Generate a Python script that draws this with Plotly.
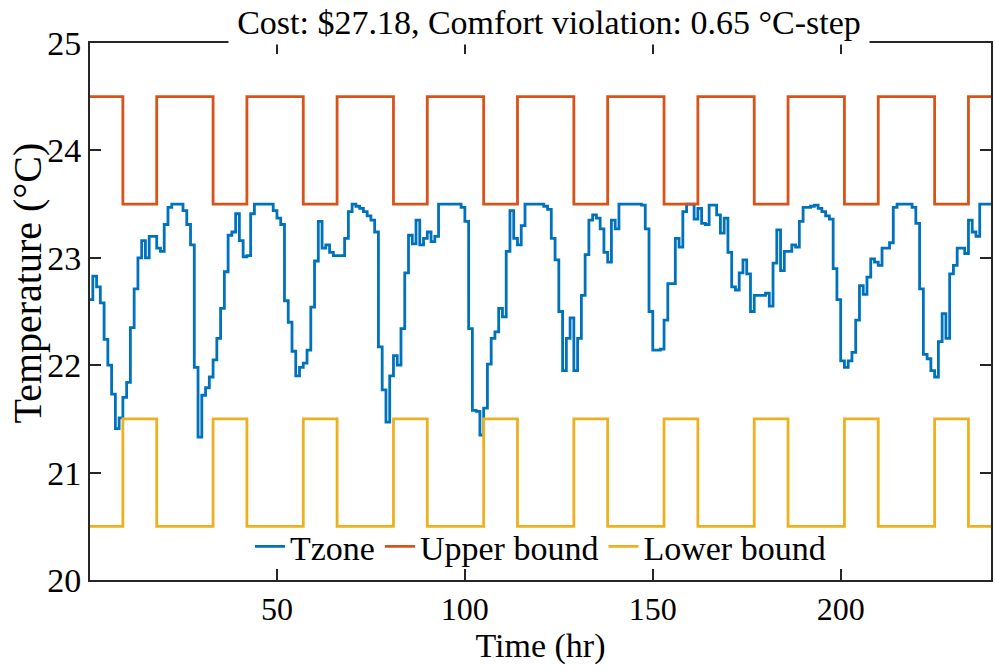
import plotly.graph_objects as go

# Zone temperature, one value per hour (hour 0 .. 239)
tzone = [
    22.61, 22.83, 22.73, 22.58, 22.24, 22.00, 21.73, 21.41, 21.51, 21.70,
    21.84, 22.35, 22.71, 23.00, 23.16, 23.00, 23.20, 23.20, 23.09, 23.06,
    23.31, 23.47, 23.50, 23.50, 23.50, 23.44, 23.31, 23.12, 21.98, 21.33,
    21.72, 21.79, 21.89, 22.05, 22.25, 22.53, 22.87, 23.21, 23.24, 23.41,
    23.16, 23.01, 23.02, 23.41, 23.50, 23.50, 23.50, 23.50, 23.50, 23.44,
    23.37, 23.31, 22.60, 22.40, 22.13, 21.90, 21.98, 22.02, 22.14, 22.54,
    22.97, 23.34, 23.09, 23.12, 23.05, 23.02, 23.02, 23.02, 23.18, 23.43,
    23.50, 23.48, 23.46, 23.43, 23.39, 23.35, 23.24, 22.17, 21.77, 21.47,
    21.90, 22.09, 22.00, 22.34, 22.86, 23.21, 23.13, 23.35, 23.12, 23.18,
    23.24, 23.15, 23.20, 23.50, 23.50, 23.50, 23.50, 23.50, 23.50, 23.47,
    23.34, 22.34, 21.58, 21.57, 21.35, 21.60, 22.01, 22.25, 22.31, 22.53,
    22.45, 23.06, 23.44, 23.18, 23.12, 23.30, 23.50, 23.50, 23.50, 23.50,
    23.50, 23.48, 23.45, 23.18, 22.98, 22.50, 21.95, 22.25, 22.44, 21.95,
    22.25, 22.65, 23.03, 23.35, 23.40, 23.37, 23.27, 23.05, 22.96, 23.35,
    23.27, 23.50, 23.50, 23.50, 23.50, 23.50, 23.50, 23.49, 23.27, 22.50,
    22.14, 22.14, 22.15, 22.42, 22.76, 22.76, 23.18, 23.10, 23.43, 23.50,
    23.50, 23.36, 23.46, 23.32, 23.31, 23.49, 23.49, 23.40, 23.23, 23.37,
    23.05, 22.73, 22.70, 22.86, 22.98, 22.85, 22.50, 22.65, 22.65, 22.65,
    22.67, 22.55, 22.95, 23.26, 22.88, 23.06, 23.06, 23.12, 23.10, 23.34,
    23.47, 23.47, 23.48, 23.49, 23.46, 23.43, 23.39, 23.36, 22.90, 22.61,
    22.04, 21.98, 22.04, 22.12, 22.42, 22.74, 22.66, 22.82, 22.99, 22.96,
    22.93, 23.09, 23.09, 23.14, 23.47, 23.50, 23.50, 23.50, 23.50, 23.47,
    23.32, 22.71, 22.10, 22.06, 21.95, 21.89, 22.22, 22.48, 22.25, 22.85,
    22.93, 23.09, 23.09, 23.04, 23.35, 23.24, 23.20, 23.50, 23.50, 23.50,
]
tzone_hours = list(range(len(tzone)))

# Comfort bounds: change times (hr) and levels after each change
bound_times = [0, 9, 18, 33, 42, 57, 66, 81, 90, 105, 114, 129, 138,
               153, 162, 177, 186, 201, 210, 225, 234, 240]
upper_bound = [24.5, 23.5, 24.5, 23.5, 24.5, 23.5, 24.5, 23.5, 24.5, 23.5, 24.5,
               23.5, 24.5, 23.5, 24.5, 23.5, 24.5, 23.5, 24.5, 23.5, 24.5, 24.5]
lower_bound = [20.5, 21.5, 20.5, 21.5, 20.5, 21.5, 20.5, 21.5, 20.5, 21.5, 20.5,
               21.5, 20.5, 21.5, 20.5, 21.5, 20.5, 21.5, 20.5, 21.5, 20.5, 20.5]

x_ticks = [50, 100, 150, 200]
y_ticks = [20, 21, 22, 23, 24, 25]
title_text = "Cost: $27.18, Comfort violation: 0.65 °C-step"
y_label = "Temperature (°C)"

FONT = "Liberation Serif"
AXC = "#262626"

fig = go.Figure()
fig.add_trace(go.Scatter(x=tzone_hours + [240], y=tzone + [tzone[-1]], mode="lines",
                         line=dict(color="#0072BD", width=2.8, shape="hv"), name="Tzone"))
fig.add_trace(go.Scatter(x=bound_times, y=upper_bound, mode="lines",
                         line=dict(color="#D95319", width=2.8, shape="hv"), name="Upper bound"))
fig.add_trace(go.Scatter(x=bound_times, y=lower_bound, mode="lines",
                         line=dict(color="#EDB120", width=2.8, shape="hv"), name="Lower bound"))

fig.update_layout(
    width=995, height=670,
    margin=dict(l=90, r=2, t=43, b=90),
    paper_bgcolor="white", plot_bgcolor="white",
    font=dict(family=FONT, size=32, color="black"),
    showlegend=True,
    legend=dict(orientation="h", x=0.5, xanchor="center", y=0.062, yanchor="middle",
                bgcolor="rgba(0,0,0,0)", font=dict(family=FONT, size=34), itemwidth=30),
    xaxis=dict(range=[0.25, 240], tickvals=x_ticks, ticks="inside", ticklen=11,
               tickwidth=1.5, tickcolor=AXC, showline=True, linecolor=AXC, linewidth=2,
               mirror="allticks", showgrid=False, zeroline=False,
               tickfont=dict(family=FONT, size=32),
               title=dict(text="Time (hr)", font=dict(family=FONT, size=34), standoff=4)),
    yaxis=dict(range=[20, 25], tickvals=y_ticks, ticks="inside", ticklen=11,
               tickwidth=1.5, tickcolor=AXC, showline=True, linecolor=AXC, linewidth=2,
               mirror="allticks", showgrid=False, zeroline=False,
               tickfont=dict(family=FONT, size=34)),
)

# y-axis label (placed as text to match the reference position)
fig.add_annotation(text=y_label, xref="paper", yref="paper", x=0, y=0.5,
                   xanchor="center", yanchor="middle", xshift=-63, yshift=28,
                   textangle=-90, showarrow=False,
                   font=dict(family=FONT, size=40, color="black"))

fig.add_annotation(text=title_text, xref="paper", yref="paper", x=0.5, y=1,
                   xanchor="center", yanchor="bottom", xshift=8, yshift=-2,
                   showarrow=False, bgcolor="white", width=640, height=44,
                   valign="middle", borderpad=0,
                   font=dict(family=FONT, size=34, color="black"))

fig.write_html("out.html")
